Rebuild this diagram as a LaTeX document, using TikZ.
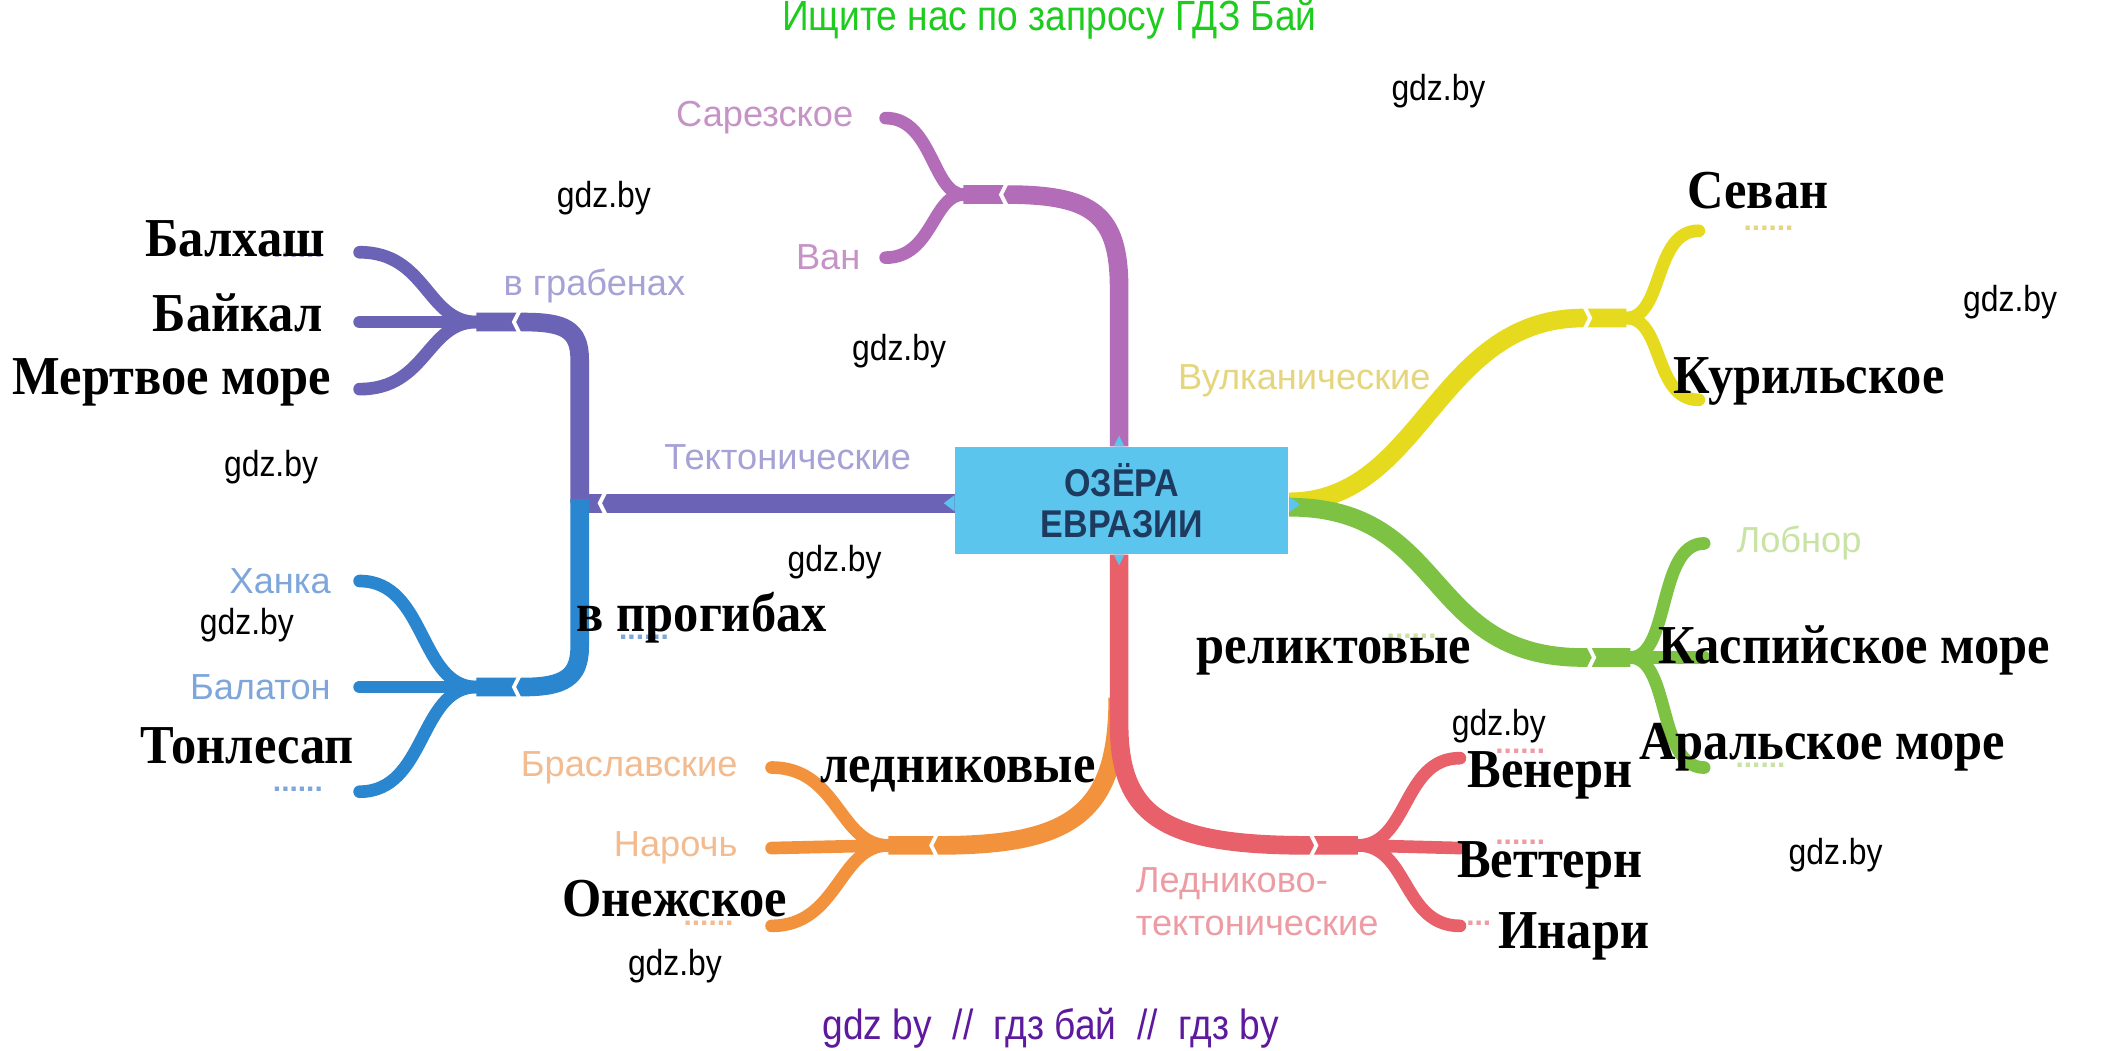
\documentclass[tikz,border=0pt]{standalone}
\usepackage{fontspec}
\setmainfont{Liberation Sans}
\newfontfamily\narrowsans[FakeStretch=0.88]{Liberation Sans}
\newfontfamily\answerserif[FakeStretch=0.92]{Liberation Serif}
\usepackage{tikz}
\usetikzlibrary{positioning}
\definecolor{hubblue}{HTML}{5BC5EE}
\definecolor{hubtext}{HTML}{1E3A5F}
\definecolor{cPurple}{HTML}{B36CB8}
\definecolor{cViolet}{HTML}{6B63B5}
\definecolor{cBlue}{HTML}{2A86CE}
\definecolor{cOrange}{HTML}{F2923C}
\definecolor{cRed}{HTML}{E8606A}
\definecolor{cYellow}{HTML}{E6DA1E}
\definecolor{cGreen}{HTML}{7DC243}
\definecolor{fPurple}{HTML}{C693C6}
\definecolor{fViolet}{HTML}{A6A2D6}
\definecolor{fBlue}{HTML}{7EA6DB}
\definecolor{fOrange}{HTML}{F2BB90}
\definecolor{fRed}{HTML}{EE9CA4}
\definecolor{fYellow}{HTML}{E5D67E}
\definecolor{fGreen}{HTML}{C9E3A4}
\definecolor{titlegreen}{HTML}{1ECC1E}
\definecolor{footviolet}{HTML}{5E1A9E}
\tikzstyle{hub} = [fill=hubblue, rectangle, minimum width=3.33cm, minimum height=1.07cm, align=center, text=hubtext, font=\narrowsans\bfseries\fontsize{11}{11.5}\selectfont]
\tikzstyle{trunk} = [line width=5.3pt]
\tikzstyle{twig} = [line width=3.6pt, line cap=round]
\tikzstyle{answer} = [inner sep=0pt, font=\answerserif\bfseries\fontsize{15.6}{16}\selectfont]
\tikzstyle{lake} = [inner sep=0pt, font=\fontsize{10.3}{12}\selectfont]
\tikzstyle{blank} = [inner sep=0pt, font=\bfseries\fontsize{8.5}{8.5}\selectfont]
\tikzstyle{wmark} = [inner sep=0pt, font=\narrowsans\fontsize{10.3}{12}\selectfont]
\tikzstyle{notch} = [draw=white, line width=1.1pt]
\tikzstyle{tab} = [fill=hubblue]
\newcommand{\notchL}[2]{\draw[notch] (#1+4,#2-8) -- (#1,#2) -- (#1+4,#2+8);}
\newcommand{\notchR}[2]{\draw[notch] (#1-4,#2-8) -- (#1,#2) -- (#1-4,#2+8);}

\begin{document}
\begin{tikzpicture}[x=0.01342cm, y=-0.01342cm]
    \useasboundingbox [fill=white] (0,0) rectangle (1568,783);
    \node [hub] (hub) at (836,373) {ОЗЁРА\\ЕВРАЗИИ};

    % forks and twig ends
    \coordinate (purF) at (718,145);
    \coordinate (sarEnd) at (660,88);
    \coordinate (vanEnd) at (660,192);
    \coordinate (tekJ) at (432,375);
    \coordinate (grbF) at (355,240);
    \coordinate (blkEnd) at (268,188);
    \coordinate (bkjEnd) at (268,240);
    \coordinate (mrtEnd) at (268,290);
    \coordinate (prgF) at (355,512);
    \coordinate (hnkEnd) at (268,433);
    \coordinate (blnEnd) at (268,512);
    \coordinate (tnlEnd) at (268,590);
    \coordinate (ledF) at (662,630);
    \coordinate (brsEnd) at (575,572);
    \coordinate (nrcEnd) at (575,632);
    \coordinate (oneEnd) at (575,690);
    \coordinate (redF) at (1012,630);
    \coordinate (venEnd) at (1088,565);
    \coordinate (vetEnd) at (1088,632);
    \coordinate (inaEnd) at (1088,690);
    \coordinate (vulF) at (1212,237);
    \coordinate (sevEnd) at (1266,172);
    \coordinate (kurEnd) at (1266,298);
    \coordinate (relF) at (1215,490);
    \coordinate (lobEnd) at (1270,405);
    \coordinate (kasEnd) at (1270,490);
    \coordinate (arlEnd) at (1270,572);

    % purple
    \draw [trunk, cPurple] (hub.north) ++(-2,0) -- (834,215) .. controls (834,160) and (815,145) .. (750,145) -- (purF);
    \draw [twig, cPurple] (purF) .. controls (695,145) and (695,88) .. (sarEnd);
    \draw [twig, cPurple] (purF) .. controls (695,145) and (695,192) .. (vanEnd);
    \notchL{746}{145}
    % violet and blue
    \draw [trunk, cViolet] (hub.west) ++(0,2) -- (tekJ);
    \draw [trunk, cViolet] (tekJ) -- (432,268) .. controls (432,245) and (420,240) .. (390,240) -- (grbF);
    \draw [trunk, cBlue] (432,372) -- (432,482) .. controls (432,505) and (420,512) .. (390,512) -- (prgF);
    \draw [twig, cViolet] (grbF) .. controls (318,240) and (318,188) .. (blkEnd);
    \draw [twig, cViolet] (grbF) -- (bkjEnd);
    \draw [twig, cViolet] (grbF) .. controls (318,240) and (318,290) .. (mrtEnd);
    \draw [twig, cBlue] (prgF) .. controls (312,512) and (318,433) .. (hnkEnd);
    \draw [twig, cBlue] (prgF) -- (blnEnd);
    \draw [twig, cBlue] (prgF) .. controls (312,512) and (318,590) .. (tnlEnd);
    \notchL{447}{375}
    \notchL{383}{240}
    \notchL{383}{512}
    % orange and red
    \draw [trunk, cOrange] (833,520) .. controls (833,605) and (800,630) .. (700,630) -- (ledF);
    \draw [twig, cOrange] (ledF) .. controls (625,630) and (625,572) .. (brsEnd);
    \draw [twig, cOrange] (ledF) -- (nrcEnd);
    \draw [twig, cOrange] (ledF) .. controls (625,630) and (625,690) .. (oneEnd);
    \draw [trunk, cRed] (hub.south) ++(-2,0) -- (834,540) .. controls (834,610) and (870,630) .. (975,630) -- (redF);
    \draw [twig, cRed] (redF) .. controls (1050,630) and (1045,565) .. (venEnd);
    \draw [twig, cRed] (redF) -- (vetEnd);
    \draw [twig, cRed] (redF) .. controls (1050,630) and (1045,690) .. (inaEnd);
    \notchL{694}{630}
    \notchR{981}{630}
    % yellow and green
    \draw [trunk, cYellow] (hub.east) ++(0,1) .. controls (1060,374) and (1070,237) .. (1180,237) -- (vulF);
    \draw [twig, cYellow] (vulF) .. controls (1240,237) and (1232,172) .. (sevEnd);
    \draw [twig, cYellow] (vulF) .. controls (1240,237) and (1232,298) .. (kurEnd);
    \draw [trunk, cGreen] (hub.east) ++(0,5) .. controls (1080,378) and (1060,490) .. (1180,490) -- (relF);
    \draw [twig, cGreen] (relF) .. controls (1245,490) and (1235,405) .. (lobEnd);
    \draw [twig, cGreen] (relF) -- (kasEnd);
    \draw [twig, cGreen] (relF) .. controls (1245,490) and (1235,572) .. (arlEnd);
    \notchR{1185}{237}
    \notchR{1188}{490}
    % little tabs on the hub
    \fill [tab] (hub.north) ++(-6,0) -- ++(4,-8) -- ++(4,8) -- cycle;
    \fill [tab] (hub.south) ++(-6,0) -- ++(4,8) -- ++(4,-8) -- cycle;
    \fill [tab] (hub.west) ++(0,-4) -- ++(-8,6) -- ++(8,6) -- cycle;
    \fill [tab] (hub.east) ++(0,-3) -- ++(8,6) -- ++(-8,6) -- cycle;

    % faded labels
    \node [lake, fPurple, left=9pt of sarEnd] (sar) {Сарезское};
    \node [lake, fPurple, left=7pt of vanEnd] (van) {Ван};
    \node [lake, fViolet] (grb) at (443,213) {в грабенах};
    \node [lake, fViolet] (tek) at (587,341) {Тектонические};
    \node [lake, fBlue, left=8pt of hnkEnd] (hnk) {Ханка};
    \node [lake, fBlue, left=8pt of blnEnd] (bln) {Балатон};
    \node [lake, fOrange, left=9.5pt of brsEnd] (brs) {Браславские};
    \node [lake, fOrange, left=9.5pt of nrcEnd] (nrc) {Нарочь};
    \node [lake, fRed, align=left, anchor=west] (ltk) at (846,672) {Ледниково-\\тектонические};
    \node [lake, fYellow] (vul) at (972,284) {Вулканические};
    \node [lake, fGreen, right=9pt of lobEnd] (lob) {Лобнор};

    % blanks
    \node [blank, fViolet] (d1) at (222,190) {......};
    \node [blank, fBlue] (d2) at (222,588) {......};
    \node [blank, fBlue] (d3) at (480,475) {......};
    \node [blank, fOrange] (d4) at (528,688) {......};
    \node [blank, fYellow] (d5) at (1318,170) {......};
    \node [blank, fGreen] (d6) at (1052,474) {......};
    \node [blank, fGreen] (d7) at (1312,570) {......};
    \node [blank, fRed] (d8) at (1133,560) {......};
    \node [blank, fRed] (d9) at (1133,628) {......};
    \node [blank, fRed] (d10) at (1102,688) {...};

    % answers
    \node [answer, anchor=east] (a1) at (243,178) {Балхаш};
    \node [answer, anchor=east] (a2) at (241,233) {Байкал};
    \node [answer, anchor=east] (a3) at (247,285) {Мертвое море};
    \node [answer] (a4) at (523,460) {в прогибах};
    \node [answer] (a5) at (184,556) {Тонлесап};
    \node [answer] (a6) at (714,577) {ледниковые};
    \node [answer] (a7) at (503,670) {Онежское};
    \node [answer] (a8) at (1310,142) {Севан};
    \node [answer] (a9) at (1348,284) {Курильское};
    \node [answer] (a10) at (994,489) {реликтовые};
    \node [answer] (a11) at (1382,485) {Каспийское море};
    \node [answer] (a12) at (1358,557) {Аральское море};
    \node [answer] (a13) at (1155,578) {Венерн};
    \node [answer] (a14) at (1155,645) {Веттерн};
    \node [answer] (a15) at (1173,698) {Инари};

    % watermarks
    \node [font=\narrowsans\fontsize{12}{14}\selectfont, text=titlegreen] (title) at (782,14) {Ищите нас по запросу ГДЗ Бай};
    \node [font=\narrowsans\fontsize{12}{14}\selectfont, text=footviolet] (foot) at (783,766) {gdz by\ \ //\ \ гдз бай\ \ //\ \ гдз by};
    \node [wmark] (w1) at (1072,68) {gdz.by};
    \node [wmark] (w2) at (450,148) {gdz.by};
    \node [wmark] (w3) at (1498,225) {gdz.by};
    \node [wmark] (w4) at (670,262) {gdz.by};
    \node [wmark] (w5) at (202,348) {gdz.by};
    \node [wmark] (w6) at (622,419) {gdz.by};
    \node [wmark] (w7) at (184,466) {gdz.by};
    \node [wmark] (w8) at (1117,541) {gdz.by};
    \node [wmark] (w9) at (1368,637) {gdz.by};
    \node [wmark] (w10) at (503,720) {gdz.by};
\end{tikzpicture}
\end{document}
